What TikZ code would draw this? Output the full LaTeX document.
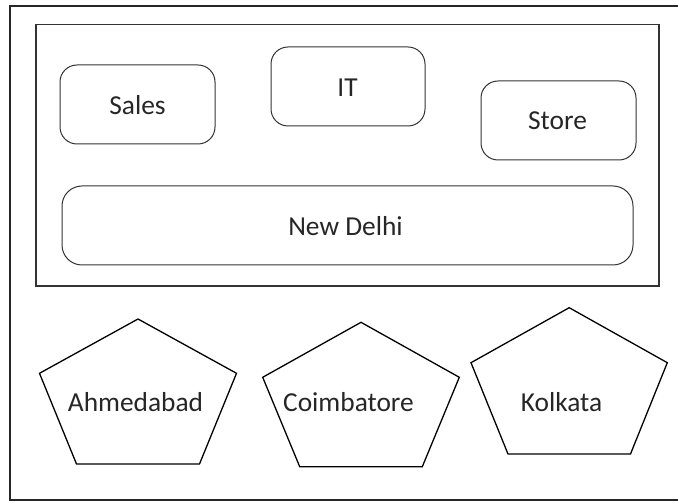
\documentclass[tikz,border=0pt]{standalone}
\usepackage{fontspec}
\setmainfont{Carlito}
\begin{document}
\begin{tikzpicture}[x=1pt,y=-1pt,
  frame/.style={draw=black!85, line width=2pt},
  region/.style={draw=black!80, line width=1.6pt, inner sep=0pt},
  dept/.style={draw=black!80, line width=1pt, rounded corners=17pt, inner sep=0pt},
  city/.style={draw=black, line width=1.3pt, line join=miter},
  lbl/.style={font=\fontsize{27.4}{30}\selectfont, text=black!85, anchor=base, inner sep=0pt}]
\useasboundingbox (0,0) rectangle (678,502);

% outer frame (open on the right)
\draw[frame] (678,6) -| (9.5,500) -- (678,500);

% head office region
\node[region, minimum width=623pt, minimum height=261.5pt] (office) at (347.5,155.25) {};

% departments
\node[dept, minimum width=155pt, minimum height=79pt] (sales) at (137.5,104.5) {};
\node[dept, minimum width=154pt, minimum height=79pt] (it) at (348,86.5) {};
\node[dept, minimum width=155pt, minimum height=79pt] (store) at (558.5,120.5) {};
\node[dept, rounded corners=20pt, minimum width=571pt, minimum height=79pt] (delhi) at (347.5,225.5) {};

\node[lbl] (salesT) at (137.5,115) {Sales};
\node[lbl] (itT) at (347.5,96.7) {IT};
\node[lbl] (storeT) at (557.5,130) {Store};
\node[lbl] (delhiT) at (345.5,236) {New Delhi};

% branch cities
\draw[city] (138,319) -- (236.5,373.3) -- (199.5,464) -- (76.5,464) -- (39.5,373.3) -- cycle;
\draw[city] (361,322.3) -- (459.3,377.3) -- (422.3,466.7) -- (299.7,466.7) -- (262.7,377.3) -- cycle;
\draw[city] (569.2,307.7) -- (667.3,362.7) -- (630.5,454) -- (508,454) -- (471,362.7) -- cycle;

\node[lbl] (ahmT) at (135.5,411.7) {Ahmedabad};
\node[lbl] (coiT) at (348.5,411.7) {Coimbatore};
\node[lbl] (kolT) at (561.5,411.7) {Kolkata};
\end{tikzpicture}
\end{document}
